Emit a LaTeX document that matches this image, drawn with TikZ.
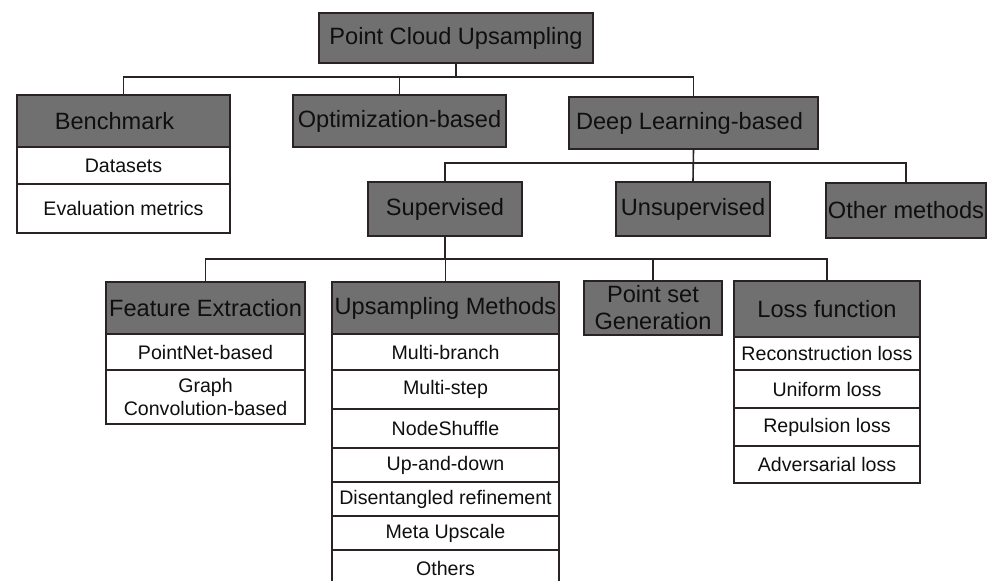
\documentclass[tikz,border=0pt]{standalone}
\usepackage{fontspec}
\setmainfont{Liberation Sans}
\definecolor{bordc}{RGB}{42,35,35}
\definecolor{hdrgray}{RGB}{112,112,112}
\definecolor{txtc}{RGB}{15,15,15}
\tikzset{
  box/.style={draw=bordc, line width=1.8pt, inner sep=0pt, text=txtc, align=center, anchor=center},
  hdr/.style={box, fill=hdrgray, font=\fontsize{23.6}{27}\selectfont},
  cell/.style={box, fill=white, font=\fontsize{19.6}{23}\selectfont},
  conn/.style={draw=bordc, line width=1.6pt},
  wh/.style 2 args={minimum width=#1pt, minimum height=#2pt}
}
\begin{document}
\begin{tikzpicture}[x=1pt,y=-1pt]
\useasboundingbox (0,0) rectangle (991,581);
\fill[white] (0,0) rectangle (991,581);
% level 0
\node[hdr, wh={274}{50}] (root) at (456,38) {Point Cloud Upsampling};
% level 1
\node[hdr, wh={213}{52}] (bench) at (123.5,121) {Benchmark\hspace{18pt}};
\node[cell, wh={213}{37}] (datasets) at (123.5,165.5) {Datasets};
\node[cell, wh={213}{49}] (evalm) at (123.5,208.5) {Evaluation metrics};
\node[hdr, wh={213}{52}] (opt) at (399.5,121) {Optimization-based};
\node[hdr, wh={249}{52}] (dl) at (693.5,123) {Deep Learning-based\hspace{8pt}};
% level 2
\node[hdr, wh={154}{54}] (sup) at (445,209) {Supervised};
\node[hdr, wh={154}{54}] (unsup) at (693,209) {Unsupervised};
\node[hdr, wh={160}{55}] (other) at (906,210.5) {Other methods};
% level 3
\node[hdr, wh={199}{52}] (feat) at (205.5,308) {Feature Extraction};
\node[cell, wh={199}{36}] (pointnet) at (205.5,352) {PointNet-based};
\node[cell, wh={199}{54}] (graph) at (205.5,397) {Graph\\Convolution-based};
\node[hdr, wh={227}{52}] (ups) at (445.5,308) {Upsampling Methods};
\node[cell, wh={227}{36}] (mb) at (445.5,352) {Multi-branch};
\node[cell, wh={227}{39}] (ms) at (445.5,389.5) {Multi-step};
\node[cell, wh={227}{39}] (ns) at (445.5,428.5) {NodeShuffle};
\node[cell, wh={227}{34}] (ud) at (445.5,465) {Up-and-down};
\node[cell, wh={227}{34}] (dr) at (445.5,499) {Disentangled refinement};
\node[cell, wh={227}{34}] (mu) at (445.5,533) {Meta Upscale};
\node[cell, wh={227}{36}] (oth) at (445.5,568) {Others};
\node[hdr, wh={138}{54}] (psg) at (653,308) {Point set\\Generation};
\node[hdr, wh={186}{56}] (loss) at (827,309) {Loss function};
\node[cell, wh={186}{33}] (rec) at (827,353.5) {Reconstruction loss};
\node[cell, wh={186}{38}] (uni) at (827,389) {Uniform loss};
\node[cell, wh={186}{38}] (rep) at (827,427) {Repulsion loss};
\node[cell, wh={186}{37}] (adv) at (827,464.5) {Adversarial loss};
% connectors
\coordinate (l1) at (0,77);
\coordinate (l2) at (0,163);
\coordinate (l3) at (0,259);
\draw[conn] (root.south) -- (root.south |- l1);
\draw[conn] (bench.north) |- (dl.north |- l1) -- (dl.north);
\draw[conn] (opt.north) -- (opt.north |- l1);
\draw[conn] (dl.south) -- (unsup.north);
\draw[conn] (sup.north) |- (other.north |- l2) -- (other.north);
\draw[conn] (sup.south) -- (sup.south |- l3);
\draw[conn] (feat.north) |- (loss.north |- l3) -- (loss.north);
\draw[conn] (ups.north) -- (ups.north |- l3);
\draw[conn] (psg.north) -- (psg.north |- l3);
\end{tikzpicture}
\end{document}
